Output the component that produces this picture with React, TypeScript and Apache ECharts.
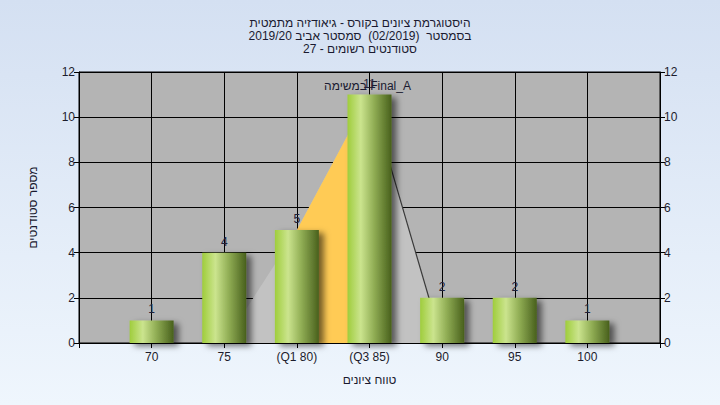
import React, { useEffect, useRef } from "react";
import * as echarts from "echarts";

const RLE = "\u202B";
const PDF = "\u202C";

const titleLines = [
  "היסטוגרמת ציונים בקורס - גיאודזיה מתמטית",
  "בסמסטר  (02/2019)  סמסטר אביב 2019/20",
  "סטודנטים רשומים - 27",
];
const grades = [70, 75, 80, 85, 90, 95, 100];
const gradeLabels = ["70", "75", "(Q1 80)", "(Q3 85)", "90", "95", "100"];
const counts = [1, 4, 5, 11, 2, 2, 1];
const curveX = [75, 80, 85, 90];
const curveY = [0, 5, 11, 0];
const q1 = 80;
const q3 = 85;
const yTicks = [0, 2, 4, 6, 8, 10, 12];
const xAxisName = "טווח ציונים";
const yAxisName = "מספר סטודנטים";
const markText = "במשימה Final_A";

const FONT = "'Liberation Sans', 'DejaVu Sans', Arial, sans-serif";

export default function App() {
  const ref = useRef<HTMLDivElement>(null);
  useEffect(() => {
    if (!ref.current) return;
    const chart = echarts.init(ref.current, undefined, { renderer: "svg" });
    const curve = curveX.map((x, i) => [x, curveY[i]]);
    const qPart = curve.filter((p) => p[0] >= q1 && p[0] <= q3);
    const tail = curve.filter((p) => p[0] >= q3);
    const labelMap: Record<number, string> = {};
    grades.forEach((g, i) => (labelMap[g] = gradeLabels[i]));
    const yAxisCommon = {
      type: "value" as const,
      min: yTicks[0],
      max: yTicks[yTicks.length - 1],
      interval: 2,
      axisLine: { show: true, lineStyle: { color: "#000", width: 1 } },
      axisTick: { show: true, length: 5, lineStyle: { color: "#000" } },
      axisLabel: { color: "#1c1c2c", fontSize: 12, fontFamily: FONT, margin: 4 },
    };
    chart.setOption({
      animation: false,
      backgroundColor: new echarts.graphic.LinearGradient(0, 0, 0, 1, [
        { offset: 0, color: "#d4e0f2" },
        { offset: 1, color: "#eff6fd" },
      ]),
      textStyle: { fontFamily: FONT },
      title: {
        text: titleLines.map((l) => RLE + l + PDF).join("\n"),
        left: "center",
        top: 11,
        textStyle: {
          fontSize: 12,
          fontWeight: "normal",
          color: "#1a1a30",
          lineHeight: 13,
          fontFamily: FONT,
        },
      },
      grid: {
        left: 79,
        right: 60,
        top: 72,
        bottom: 62,
        show: true,
        backgroundColor: "#b4b4b4",
        borderColor: "#000",
        borderWidth: 1,
      },
      xAxis: {
        type: "value",
        min: 65,
        max: 105,
        interval: 5,
        name: xAxisName,
        nameLocation: "middle",
        nameGap: 31,
        nameTextStyle: { color: "#1a1a30", fontSize: 12, fontFamily: FONT },
        axisLine: { show: true, onZero: false, lineStyle: { color: "#000" } },
        axisTick: { show: true, length: 5, lineStyle: { color: "#000" } },
        axisLabel: {
          color: "#1c1c2c",
          fontSize: 12,
          fontFamily: FONT,
          margin: 8,
          showMinLabel: true,
          showMaxLabel: true,
          formatter: (v: number) => labelMap[v] ?? "",
        },
        splitLine: {
          show: true,
          lineStyle: { color: "#000", width: 1 },
        },
      },
      yAxis: [
        {
          ...yAxisCommon,
          position: "left",
          name: yAxisName,
          nameLocation: "middle",
          nameGap: 40,
          nameRotate: 90,
          nameTextStyle: { color: "#1a1a30", fontSize: 12, fontFamily: FONT },
          splitLine: { show: true, lineStyle: { color: "#000", width: 1 } },
        },
        {
          ...yAxisCommon,
          position: "right",
          splitLine: { show: false },
        },
      ],
      series: [
        {
          type: "line",
          data: curve,
          symbol: "none",
          lineStyle: { width: 0 },
          areaStyle: { color: "#c2c2c2", opacity: 1 },
          z: 1,
          silent: true,
        },
        {
          type: "line",
          data: qPart,
          symbol: "none",
          lineStyle: { width: 0 },
          areaStyle: { color: "#ffcb55", opacity: 1 },
          z: 2,
          silent: true,
        },
        {
          type: "line",
          data: tail,
          symbol: "none",
          lineStyle: { width: 1.2, color: "#3a3a3a" },
          z: 3,
          silent: true,
        },
        {
          type: "bar",
          data: grades.map((g, i) => [g, counts[i]]),
          barWidth: 44,
          z: 5,
          itemStyle: {
            color: new echarts.graphic.LinearGradient(0, 0, 1, 0, [
              { offset: 0, color: "#9fcd3c" },
              { offset: 0.3, color: "#cbe48e" },
              { offset: 0.6, color: "#91ae55" },
              { offset: 1, color: "#48601c" },
            ]),
            shadowColor: "rgba(0,0,0,0.55)",
            shadowBlur: 6,
            shadowOffsetX: 5,
            shadowOffsetY: 3,
          },
          label: {
            show: true,
            position: "top",
            distance: 5,
            color: "#202038",
            fontSize: 12,
            fontFamily: FONT,
          },
          markPoint: {
            symbol: "circle",
            symbolSize: 0,
            data: [
              {
                coord: [q3, counts[grades.indexOf(q3)]],
                label: {
                  show: true,
                  formatter: markText,
                  color: "#1a1a30",
                  fontSize: 12,
                  fontFamily: FONT,
                  offset: [-2, -9],
                },
              },
            ],
          },
        },
      ],
    });
    return () => chart.dispose();
  }, []);
  return <div ref={ref} style={{ width: 720, height: 405, position: "absolute", left: 0, top: 0 }} />;
}
